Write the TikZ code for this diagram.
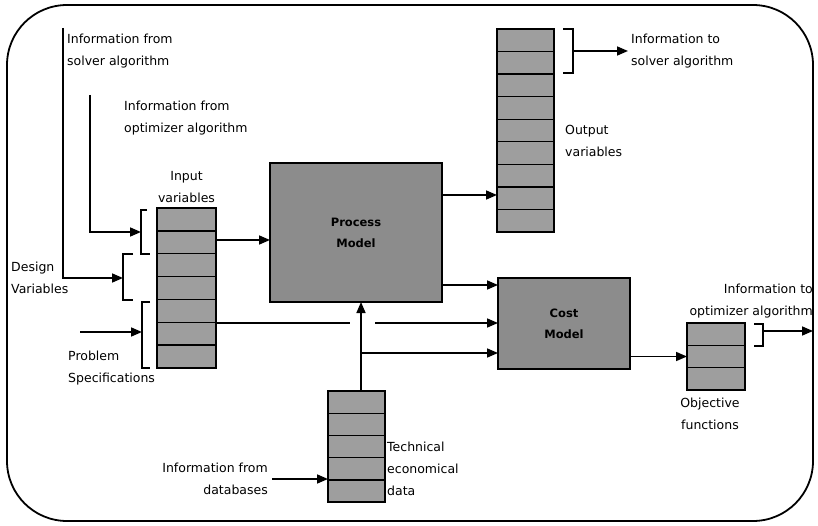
\documentclass[tikz,border=0pt]{standalone}
\usepackage{fontspec}
\setmainfont{DejaVu Sans}
\usetikzlibrary{arrows.meta, positioning, calc}

% horizontal rules splitting a variable stack into cells
\newcommand{\stackrows}[2]{%
  \foreach \k in {1,...,#2}
    \draw[line width=1.4pt] ($(#1.north west)!\k/#2!(#1.south west)$) --
                            ($(#1.north east)!\k/#2!(#1.south east)$);
}

\begin{document}
\begin{tikzpicture}[x=1pt, y=-1pt, >={Triangle[length=11pt, width=9pt]},
  every node/.style={font=\fontsize{12.5}{22}\selectfont},
  model/.style={draw, line width=1.8pt, fill=black!45, inner sep=0pt, outer sep=0pt,
                align=center, font=\fontsize{11.5}{21}\selectfont\bfseries},
  varstack/.style={draw, line width=1.6pt, fill=black!38, inner sep=0pt, outer sep=0pt},
  lbl/.style={inner sep=1pt, align=left},
  flow/.style={->, line width=1.6pt},
  brace/.style={line width=1.2pt}]
  \useasboundingbox (0,0) rectangle (818,526);

  % outer frame
  \draw[line width=1.8pt, rounded corners=60pt] (7,5) rectangle (813,521);

  % models
  \node[model, minimum width=172pt, minimum height=139pt] (process) at (356,232.5) {Process\\Model};
  \node[model, minimum width=132pt, minimum height=91pt] (cost) at (564,323.5) {Cost\\Model};

  % variable stacks
  \node[varstack, minimum width=59pt, minimum height=160pt] (inputs) at (186.5,288) {};
  \node[varstack, minimum width=57pt, minimum height=203pt] (outputs) at (525.5,130.5) {};
  \node[varstack, minimum width=57pt, minimum height=111pt] (techdata) at (356.5,446.5) {};
  \node[varstack, minimum width=58pt, minimum height=67pt] (objectives) at (716,356.5) {};
  \stackrows{inputs}{7}
  \stackrows{outputs}{9}
  \stackrows{techdata}{5}
  \stackrows{objectives}{3}

  % labels
  \node[lbl, align=center, above=4pt of inputs] (inputlbl) {Input\\variables};
  \node[lbl, anchor=west] (solverin) at (66,51) {Information from\\solver algorithm};
  \node[lbl, anchor=west] (optin) at (123,118.5) {Information from\\optimizer algorithm};
  \node[lbl, anchor=west] (designlbl) at (10,277.5) {Design\\Variables};
  \node[lbl, anchor=west] (problbl) at (67,368) {Problem\\Specifications};
  \node[lbl, anchor=west] (solverout) at (630,51) {Information to\\solver algorithm};
  \node[lbl, anchor=west] (outlbl) at (564,140.5) {Output\\variables};
  \node[lbl, anchor=east, align=right] (optout) at (814,301) {Information to\\optimizer algorithm};
  \node[lbl, align=center] (objlbl) at (710,414) {Objective\\functions};
  \node[lbl, anchor=west] (techlbl) at (386,468.5) {Technical\\economical\\data};
  \node[lbl, anchor=east, align=right] (dblbl) at (269,479) {Information from\\databases};

  % brackets
  \draw[brace] (147,210) -| (141,254) -- (150,254);
  \draw[brace] (133,254) -| (123,300) -- (133,300);
  \draw[brace] (150,302) -| (142,368) -- (150,368);
  \draw[brace] (563,29) -| (573,73) -- (563,73);
  \draw[brace] (754,324) -| (763,346) -- (754,346);

  \coordinate (solvertop) at (63,28);
  \coordinate (opttop) at (90,95);
  \coordinate (probstart) at (80,332);
  \coordinate (optbr) at (141,232);
  \coordinate (designbr) at (123,278);
  \coordinate (probbr) at (142,332);
  \coordinate (outbr) at (573,51);
  \coordinate (objbr) at (763,331);
  \coordinate (toopt) at (813,331);
  \coordinate (feed) at (361,0);
  \coordinate (yin) at (0,240);
  \coordinate (yout) at (0,195);
  \coordinate (yca) at (0,285);
  \coordinate (ycb) at (0,323);
  \coordinate (ycc) at (0,353);

  % incoming information
  \draw[flow] (solvertop) |- (designbr);
  \draw[flow] (opttop) |- (optbr);
  \draw[flow] (probstart) -- (probbr);
  \draw[flow, shorten <=3pt] (dblbl.east) -- (dblbl.east -| techdata.west);

  % flows between blocks
  \draw[flow] (inputs.east |- yin) -- (process.west |- yin);
  \draw[flow] (process.east |- yout) -- (outputs.west |- yout);
  \draw[flow] (process.east |- yca) -- (cost.west |- yca);
  \draw[line width=1.6pt] (inputs.east |- ycb) -- ($(feed |- ycb)+(-11,0)$);
  \draw[flow] ($(feed |- ycb)+(14,0)$) -- (cost.west |- ycb);
  \draw[flow] (techdata.north -| feed) -- (process.south -| feed);
  \draw[flow] (feed |- ycc) -- (cost.west |- ycc);
  \draw[flow] (cost.east |- objectives.west) -- (objectives.west);

  % outgoing information
  \draw[flow, shorten >=2pt] (outbr) -- (solverout.west);
  \draw[flow] (objbr) -- (toopt);
\end{tikzpicture}
\end{document}
